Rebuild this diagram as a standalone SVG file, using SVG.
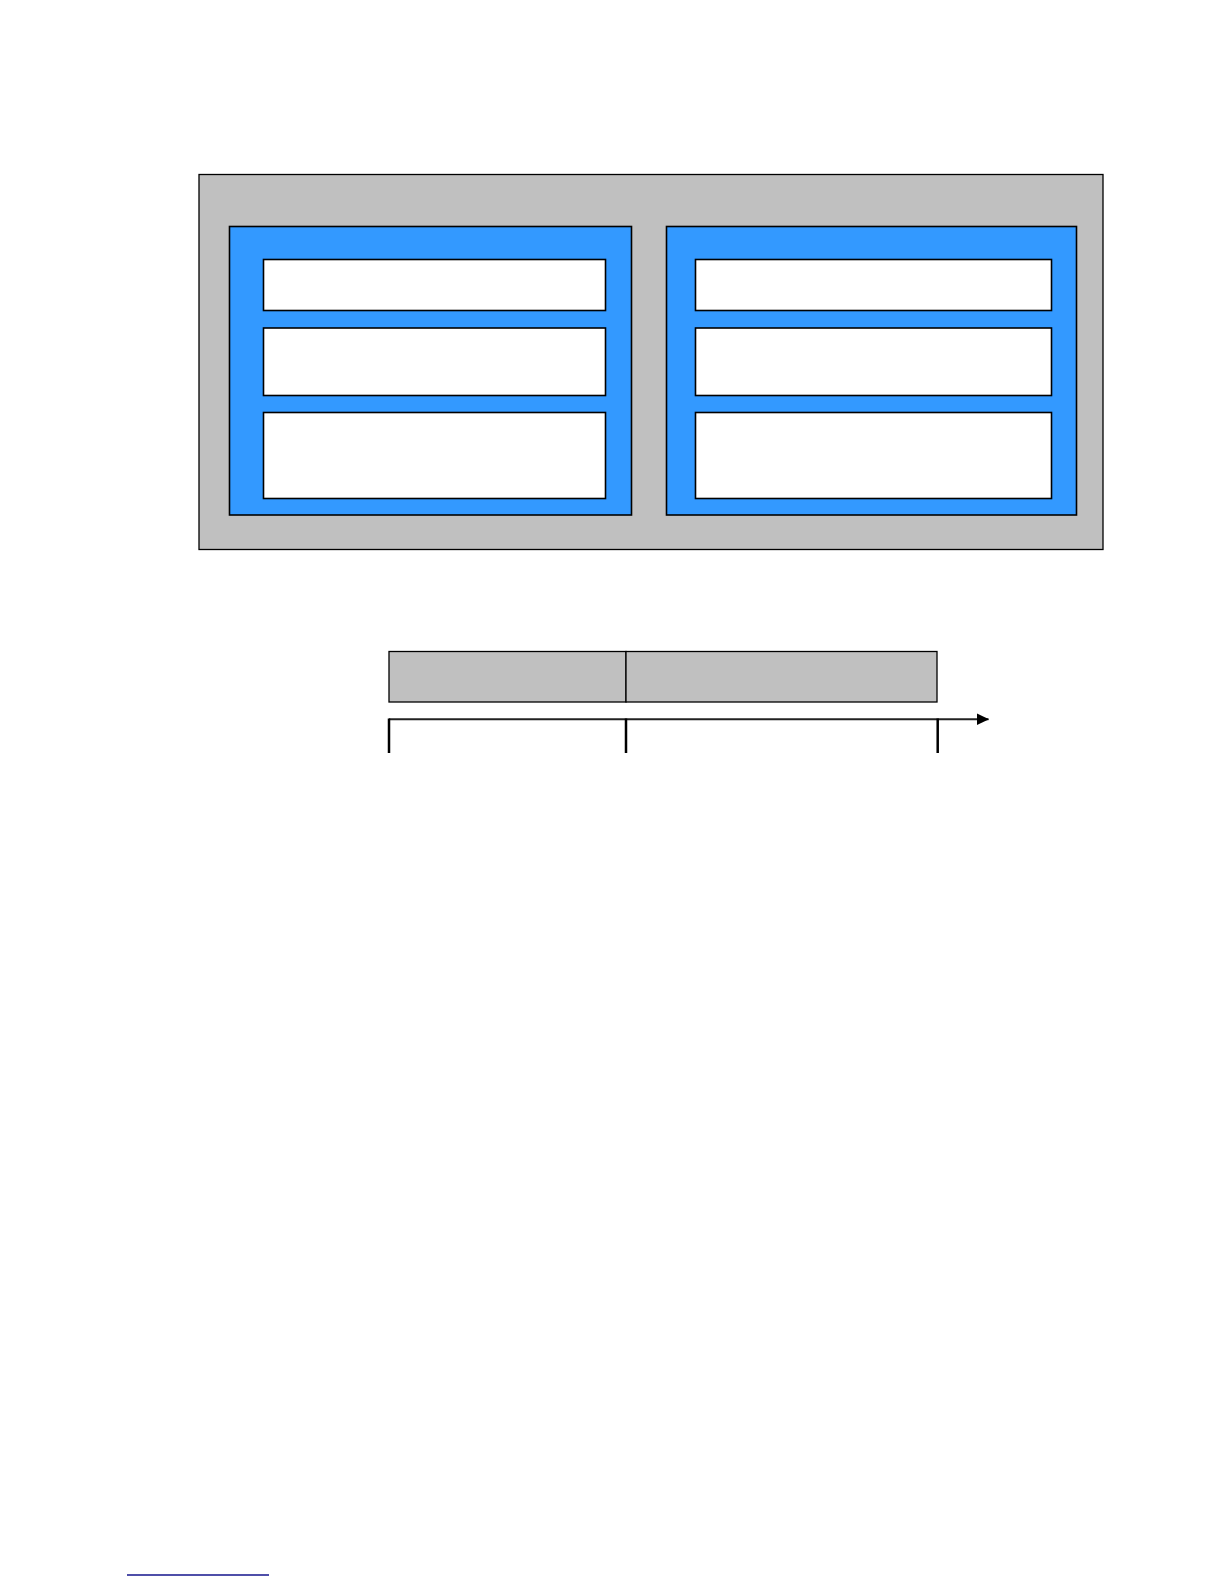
<svg xmlns="http://www.w3.org/2000/svg" width="1224" height="1584" viewBox="0 0 1224 1584">
<style>
.gray{fill:#C0C0C0;stroke:#000;stroke-width:1.3}
.blue{fill:#3399FF;stroke:#000;stroke-width:1.6}
.white{fill:#FFF;stroke:#000;stroke-width:1.6}
.axis{stroke:#222;stroke-width:2;fill:none}
.tick{stroke:#000;stroke-width:2.5;fill:none}
</style>
<defs>
<marker id="arr" markerWidth="14" markerHeight="14" refX="12" refY="7" orient="auto" markerUnits="userSpaceOnUse">
<path d="M0,1 L12.5,7 L0,13 Z" fill="#000"/>
</marker>
</defs>
<rect width="1224" height="1584" fill="#FFF"/>
<g id="outer"><rect class="gray" x="199" y="174.5" width="904" height="375"/></g>
<g id="left-panel">
<rect class="blue" x="229.5" y="226.5" width="402" height="288.5"/>
<rect class="white" x="263.5" y="259.5" width="342" height="51"/>
<rect class="white" x="263.5" y="328" width="342" height="67.5"/>
<rect class="white" x="263.5" y="412.5" width="342" height="86"/>
</g>
<g id="right-panel">
<rect class="blue" x="666.5" y="226.5" width="410" height="288.5"/>
<rect class="white" x="695.5" y="259.5" width="356" height="51"/>
<rect class="white" x="695.5" y="328" width="356" height="67.5"/>
<rect class="white" x="695.5" y="412.5" width="356" height="86"/>
</g>
<g id="phase1"><rect class="gray" x="389" y="651.5" width="237" height="50.5" stroke-width="1.6"/></g>
<g id="phase2"><rect class="gray" x="626" y="651.5" width="311" height="50.5" stroke-width="1.6"/></g>
<g id="connectors">
<line class="axis" x1="389" y1="719.3" x2="988.5" y2="719.3" marker-end="url(#arr)"/>
<line class="tick" x1="389" y1="718.5" x2="389" y2="753"/>
<line class="tick" x1="626" y1="718.5" x2="626" y2="753"/>
<line class="tick" x1="937.7" y1="718.5" x2="937.7" y2="753" stroke-width="3"/>
</g>
<line x1="127" y1="1575" x2="269" y2="1575" stroke="#14148C" stroke-width="1.6"/>
</svg>
